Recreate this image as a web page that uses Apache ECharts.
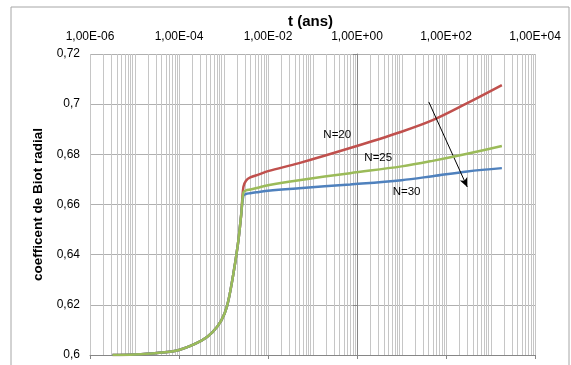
<!DOCTYPE html>
<html>
<head>
<meta charset="utf-8">
<script src="https://cdn.jsdelivr.net/npm/echarts@6/dist/echarts.min.js"></script>
<style>
html,body{margin:0;padding:0;background:#fff;}
#chart{width:571px;height:365px;}
</style>
</head>
<body>
<div id="chart"></div>
<script>
// time in years (x, log scale)
const tYears = [3.2e-6, 1e-5, 3.2e-5, 1e-4, 3.2e-4, 5.6e-4, 8.9e-4, 1.2e-3, 1.6e-3, 2.1e-3, 2.5e-3,
                2.8e-3, 3.2e-3, 4e-3, 6.3e-3, 1e-2, 0.05, 0.7, 10, 50, 300, 1800];
const biotN20 = [0.6, 0.6002, 0.6008, 0.602, 0.6057, 0.609, 0.6137, 0.6195, 0.6305, 0.644, 0.656,
                 0.667, 0.6695, 0.6708, 0.672, 0.6733, 0.6765, 0.6825, 0.689, 0.6936, 0.7004, 0.7076];
const biotN25 = [0.6, 0.6002, 0.6008, 0.602, 0.6057, 0.609, 0.6137, 0.6195, 0.6305, 0.644, 0.656,
                 0.6648, 0.6656, 0.666, 0.6668, 0.6677, 0.6697, 0.6725, 0.6752, 0.6774, 0.6802, 0.6833];
const biotN30 = [0.6, 0.6002, 0.6008, 0.602, 0.6057, 0.609, 0.6137, 0.6195, 0.6305, 0.644, 0.656,
                 0.6635, 0.6642, 0.6645, 0.665, 0.6655, 0.6665, 0.668, 0.6697, 0.6713, 0.6732, 0.6745];
const seriesNames = ['N=20', 'N=25', 'N=30'];
// label anchor points [t, value]
const labelPoints = [[0.36, 0.6877], [3, 0.6786], [13, 0.665]];
// arrow from/to [t, value]
const arrowFrom = [41, 0.7009];
const arrowTo = [300, 0.667];
// axis ranges
const xExpMin = -6, xExpMax = 4, xExpStep = 2;
const yMin = 0.6, yMax = 0.72, yStep = 0.02;

const lg = Math.log10;
const toPairs = (vals) => tYears.map((t, i) => [lg(t), vals[i]]);

// log grid positions (1..9 x 10^n)
const gridX = [];
for (let n = xExpMin; n < xExpMax; n++) {
  for (let k = 1; k <= 9; k++) gridX.push(lg(k) + n);
}
gridX.push(xExpMax);

const fmtX = (v) => {
  const e = Math.round(v);
  const s = Math.abs(e) < 10 ? '0' + Math.abs(e) : '' + Math.abs(e);
  return '1,00E' + (e < 0 ? '-' : '+') + s;
};
const fmtY = (v) => String(+v.toFixed(2)).replace('.', ',');

const FONT = 'Liberation Sans';
const colors = ['#C0504D', '#9BBB59', '#4F81BD'];

const chart = echarts.init(document.getElementById('chart'), null, {renderer: 'canvas'});
const lineSeries = (idx, vals, z) => ({
  type: 'line',
  name: seriesNames[idx],
  data: toPairs(vals),
  showSymbol: false,
  symbol: 'none',
  smooth: 0.35,
  z: z,
  lineStyle: {color: colors[idx], width: 2.5},
  itemStyle: {color: colors[idx]},
  markPoint: {
    silent: true,
    symbol: 'rect',
    symbolSize: 1,
    itemStyle: {color: 'rgba(0,0,0,0)'},
    label: {show: true, position: 'inside', color: '#000', fontFamily: FONT, fontSize: 11.5, formatter: seriesNames[idx]},
    data: [{coord: [lg(labelPoints[idx][0]), labelPoints[idx][1]]}]
  }
});

const option = {
  animation: false,
  backgroundColor: '#fff',
  grid: {left: 90, right: 36, top: 54, bottom: 10},
  graphic: [
    {type: 'rect', shape: {x: 11, y: 7, width: 558, height: 380}, style: {fill: 'none', stroke: '#a6a6a6', lineWidth: 1}, z: -10, silent: true},
    {type: 'text', left: 288, top: 14, style: {text: 't (ans)', font: 'bold 15px ' + FONT, fill: '#000'}}
  ],
  xAxis: [
    {
      type: 'value', min: xExpMin, max: xExpMax, interval: xExpStep, position: 'bottom',
      axisLine: {show: true, onZero: false, lineStyle: {color: '#868686', width: 1}},
      axisTick: {show: true, inside: false, length: 4, lineStyle: {color: '#868686'}},
      axisLabel: {show: false},
      splitLine: {show: false}
    },
    {
      type: 'value', min: xExpMin, max: xExpMax, interval: xExpStep, position: 'top',
      axisLine: {show: false}, axisTick: {show: false}, splitLine: {show: false},
      axisLabel: {show: true, margin: 11, color: '#000', fontFamily: FONT, fontSize: 12, formatter: fmtX}
    }
  ],
  yAxis: {
    type: 'value', min: yMin, max: yMax, interval: yStep,
    name: 'coefficent de Biot radial', nameLocation: 'middle', nameGap: 45,
    nameTextStyle: {fontFamily: FONT, fontWeight: 'bold', fontSize: 13.5, color: '#000'},
    axisLine: {show: true, lineStyle: {color: '#868686'}},
    axisTick: {show: true, length: 4, lineStyle: {color: '#868686'}},
    axisLabel: {color: '#000', fontFamily: FONT, fontSize: 12, margin: 10, formatter: fmtY},
    splitLine: {show: true, lineStyle: {color: '#b0b0b0', width: 1}}
  },
  series: [
    {
      type: 'custom',
      z: 0,
      silent: true,
      data: gridX.map(v => [v]),
      renderItem: (params, api) => {
        const x = api.value(0);
        const p1 = api.coord([x, yMin]);
        const p2 = api.coord([x, yMax]);
        return {
          type: 'line',
          shape: {x1: Math.round(p1[0]) + 0.5, y1: p1[1], x2: Math.round(p2[0]) + 0.5, y2: p2[1]},
          style: {stroke: '#c6c6c6', lineWidth: 1}
        };
      }
    },
    lineSeries(0, biotN20, 3),
    Object.assign(lineSeries(2, biotN30, 4), {
      markLine: {
        silent: true,
        symbol: ['none', 'arrow'],
        symbolSize: [6, 9],
        label: {show: false},
        lineStyle: {color: '#000', width: 1, type: 'solid'},
        data: [[{coord: [lg(arrowFrom[0]), arrowFrom[1]]}, {coord: [lg(arrowTo[0]), arrowTo[1]]}]]
      }
    }),
    lineSeries(1, biotN25, 5)
  ]
};
chart.setOption(option);
</script>
</body>
</html>
